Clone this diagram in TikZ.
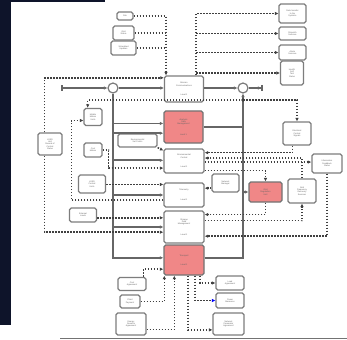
\documentclass[tikz,border=0pt]{standalone}
\usepackage{fontspec}
\setmainfont{Liberation Sans}
\usetikzlibrary{arrows.meta}
\definecolor{salmon}{RGB}{240,135,135}
\definecolor{navy}{RGB}{14,20,42}
\definecolor{edge}{RGB}{125,125,125}
\begin{document}
\begin{tikzpicture}[x=1mm,y=-1mm,
  blk/.style={draw=edge,line width=1.3mm,rounded corners=1.8mm,fill=white,inner sep=0.4mm,align=center,text=black!60,font=\fontsize{6}{6.5}\selectfont},
  hot/.style={blk,fill=salmon,draw=black!55},
  sz/.style 2 args={minimum width=#1mm,minimum height=#2mm},
  sum/.style={circle,draw=edge,line width=1.2mm,fill=white,minimum size=10mm,inner sep=0},
  flow/.style={draw=black!60,line width=1.6mm},
  sig/.style={draw=black!75,line width=1.5mm,dash pattern=on 1.5mm off 1.5mm},
  >={Latex[length=3.5mm,width=3.5mm]}]
  \useasboundingbox (0,0) rectangle (347,340);
  \fill[white] (0,0) rectangle (347,340);
  \fill[navy] (0,0) rectangle (11,325);
  \fill[navy] (0,0) rectangle (105,2);
  \draw[black!55,line width=1.5mm] (60,338.5) -- (347,338.5);

  % centre column
  \node[blk,sz={39}{26}] (comm) at (184,89) {Mission\\Communications\\[7mm]Level 1};
  \node[hot,sz={39}{32}] (anlys) at (183.5,127) {Analysis\\Data\\Management\\[8mm]Level 1};
  \node[blk,sz={40}{24}] (envc) at (184,161) {Environmental\\Control\\[7mm]Level 1};
  \node[blk,sz={40}{24}] (telem) at (184,195) {Telemetry\\[8mm]Level 1};
  \node[blk,sz={40}{32}] (store) at (184,227) {Storage\\Data\\Management\\[8mm]Level 1};
  \node[hot,sz={40}{30}] (trans) at (184,260) {Transport\\[7mm]Level 1};
  \node[sum] (sumA) at (113,88) {};
  \node[sum] (sumB) at (243,88) {};
  \coordinate (src) at (61,88);
  \coordinate (snk) at (263,88);
  \coordinate (tap) at (243,100);

  % left
  \node[blk,sz={24}{22}] (lt) at (50,144) {LGES\\Unit\\Record of\\Control\\Status};
  \node[blk,sz={18}{17}] (ml1) at (93,117) {Mobile\\Meters\\Units};
  \node[blk,sz={18}{14}] (ml2) at (93,150) {Cost\\Meters};
  \node[blk,sz={27}{18}] (ml3) at (92,184) {LGES\\Control\\Units};
  \node[blk,sz={27}{14}] (ml4) at (83,215) {External\\Loads};
  \node[blk,sz={39}{13}] (env) at (137.5,140.5) {Environmental\\Set Points};

  % top
  \node[blk,sz={16}{8}] (tl1) at (125,16) {Site};
  \node[blk,sz={21}{14}] (tl2) at (123.5,33) {Grid\\Status};
  \node[blk,sz={25}{14}] (tl3) at (123.5,48) {Scheduled\\Updates};
  \node[blk,sz={27}{19}] (tr1) at (292.5,13.5) {Data transfer\\to the\\Systems};
  \node[blk,sz={27}{13}] (tr2) at (292.5,33.5) {Dispatch\\Services};
  \node[blk,sz={27}{15}] (tr3) at (292.5,52.5) {Alarm\\Services};
  \node[blk,sz={23}{24}] (tr4) at (292,73) {Health\\Self\\Test\\Status};

  % right
  \node[blk,sz={28}{23}] (rb1) at (297,133.5) {Electrical\\Control\\Signals};
  \node[blk,sz={30}{19}] (rb2) at (327,163.5) {Information\\Feedback\\Status};
  \node[blk,sz={28}{24}] (rb3) at (302,191) {Grid\\Frequency\\Recovery\\Services};
  \node[hot,sz={33}{20}] (red3) at (265.5,192) {Grid\\Regulation\\Unit};
  \node[blk,sz={27}{18}] (nb) at (225.5,183) {Network\\Manager};

  % bottom
  \node[blk,sz={28}{13}] (bl1) at (132,284) {Cost\\Agreement};
  \node[blk,sz={20}{13}] (bl2) at (130,301.5) {Client\\Payment};
  \node[blk,sz={30}{22}] (bl3) at (131,324) {Energy\\Reserve\\Agreement};
  \node[blk,sz={28}{14}] (br1) at (230,283) {Load\\Agreement};
  \node[blk,sz={28}{15}] (br2) at (230,300.5) {Power\\Measures};
  \node[blk,sz={31}{22}] (br3) at (228.5,324) {Network\\Parameter\\Agreement};

  % main line and bus
  \draw[flow,{Bar[width=6mm]}->] (src) -- (sumA);
  \draw[flow,->] (sumA) -- (sumA -| comm.west);
  \draw[flow,->] (sumB -| comm.east) -- (sumB);
  \draw[flow,-{Latex[length=3.5mm,width=3.5mm]Bar[width=6mm]}] (sumB) -- (snk);
  \draw[flow,->] (sumA) |- (trans.174);
  \draw[flow,->] (trans.6) -| (sumB);
  \draw[flow,->] (sumA |- anlys.170) -- (anlys.170);
  \draw[flow,->] (sumA |- anlys.197) -- (anlys.197);
  \draw[flow,->] (sumA |- envc.178) -- (envc.178);
  \draw[flow,->] (sumA |- telem.west) -- (telem.west);
  \draw[flow,->] (sumA |- store.west) -- (store.west);
  \draw[flow] (anlys.east) -- (sumB |- anlys.east);
  \draw[flow,->] (sumB |- red3.west) -- (red3.west);

  % signals
  \coordinate (tlbus) at ([xshift=-18mm]comm.north);
  \draw[sig,->] (tl1.east) -| (tlbus);
  \draw[sig] (tl2.east) -- (tl2.east -| tlbus);
  \draw[sig] (tl3.east) -- (tl3.east -| tlbus);
  \coordinate (trbus) at ([xshift=12mm]comm.north);
  \draw[sig,->] (trbus) |- (tr1.west);
  \draw[sig,->] (trbus |- tr2.west) -- (tr2.west);
  \draw[sig,->] (trbus |- tr3.west) -- (tr3.west);
  \draw[sig,->] (trbus |- tr4.west) -- (tr4.west);

  \draw[sig,->] (lt.115) |- (comm.151);
  \draw[sig,->] (lt.245) |- (store.194);
  \draw[sig,->] (rb2.south) |- (store.336);
  \fill[black!75] (tap) circle (1.8);
  \draw[sig,->] (tap) -| (ml1.120);
  \draw[sig,->] (tap) -| (rb1.north);
  \draw[sig,->] (telem.194) -| ([xshift=-12mm]ml1.200) -- (ml1.200);
  \draw[sig,->] (ml2.east) -- ++(6,0) |- (envc.199);
  \draw[sig,->] (ml3.east |- telem.153) -- (telem.153);
  \draw[sig,->] (ml4.east |- store.156) -- (store.156);
  \draw[sig,->] (env.south east) -- (envc.153);

  \draw[sig,->] (rb1.250) |- (envc.22);
  \draw[sig,->] (envc.357) -- (envc.357 -| rb2.west);
  \draw[sig,->] (rb3.north) |- (envc.8);
  \draw[sig,->] (nb.200) -- (nb.200 -| telem.east);
  \draw[sig,->] (envc.335) -| (red3.north);
  \draw[sig,->] (red3.south) |- (store.31);
  \draw[sig,->] (store.17) -| (rb3.south);

  \draw[sig,->] ([xshift=-3mm]bl1.north east) |- (trans.204);
  \draw[sig,->] (bl2.east) -| ([xshift=1mm]trans.south west);
  \draw[sig,->] (bl3.340) -| ([xshift=11mm]trans.south west);
  \draw[sig,->] ([xshift=16mm]trans.south) |- (br1.west);
  \draw[sig,-{Latex[length=3.5mm,width=3.5mm,blue]}] ([xshift=11mm]trans.south) |- (br2.west);
  \draw[sig,->] ([xshift=4mm]trans.south) |- (br3.200);
\end{tikzpicture}
\end{document}
